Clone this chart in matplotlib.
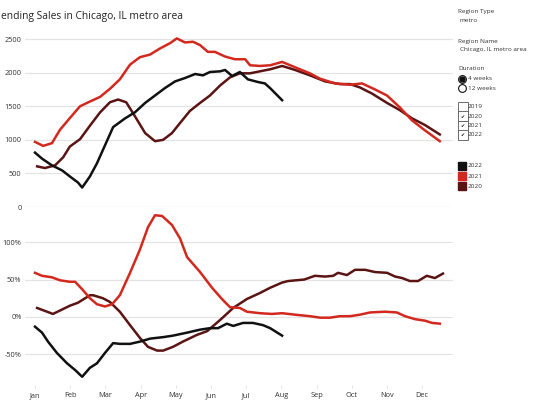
import matplotlib
matplotlib.use("Agg")
import matplotlib.pyplot as plt
from matplotlib.lines import Line2D

plt.rcParams['font.family'] = ['Open Sans', 'DejaVu Sans']

months = ["Jan", "Feb", "Mar", "Apr", "May", "Jun", "Jul", "Aug", "Sep", "Oct", "Nov", "Dec"]

# pending sales, 4 week window (x is month position, 0 = Jan)
x21_top = [0.0, 0.23, 0.48, 0.71, 1.0, 1.28, 1.56, 1.85, 2.13, 2.41, 2.70, 2.98, 3.27, 3.55, 3.84,
           4.03, 4.26, 4.49, 4.69, 4.91, 5.11, 5.40, 5.68, 5.97, 6.11, 6.39, 6.68, 7.02, 7.39, 7.81,
           8.10, 8.52, 8.95, 9.29, 9.66, 10.0, 10.37, 10.71, 11.08, 11.5]
y21_top = [970, 910, 950, 1150, 1330, 1500, 1570, 1640, 1760, 1900, 2120, 2230, 2270, 2360, 2440,
           2510, 2450, 2460, 2410, 2310, 2310, 2240, 2200, 2200, 2110, 2100, 2110, 2160, 2080, 1990,
           1910, 1840, 1820, 1840, 1750, 1660, 1480, 1290, 1140, 980]

x20_top = [0.06, 0.28, 0.57, 0.80, 0.99, 1.28, 1.56, 1.85, 2.13, 2.36, 2.59, 2.84, 3.13, 3.41, 3.64,
           3.89, 4.12, 4.40, 4.69, 4.97, 5.26, 5.54, 5.82, 6.11, 6.39, 6.68, 7.02, 7.39, 7.81, 8.24,
           8.66, 8.95, 9.23, 9.57, 10.0, 10.37, 10.71, 11.08, 11.5]
y20_top = [605, 580, 620, 740, 900, 1010, 1210, 1410, 1560, 1600, 1560, 1350, 1100, 980, 1000,
           1100, 1250, 1430, 1550, 1660, 1810, 1930, 1990, 1990, 2020, 2050, 2100, 2040, 1960, 1870,
           1830, 1830, 1780, 1690, 1550, 1440, 1320, 1220, 1080]

x22_top = [0.0, 0.2, 0.48, 0.77, 0.99, 1.22, 1.34, 1.56, 1.76, 2.22, 2.56, 2.84, 3.13, 3.41, 3.69,
           3.98, 4.26, 4.55, 4.77, 4.97, 5.26, 5.40, 5.60, 5.82, 6.05, 6.34, 6.53, 6.68, 6.85, 7.02]
y22_top = [810, 720, 620, 545, 455, 365, 290, 455, 650, 1190, 1320, 1410, 1550, 1660, 1770,
           1870, 1920, 1980, 1960, 2010, 2020, 2040, 1950, 2010, 1900, 1860, 1840, 1770, 1680, 1590]

# year-over-year change, %
x21_bot = [0.0, 0.2, 0.48, 0.71, 0.99, 1.14, 1.34, 1.56, 1.76, 1.99, 2.19, 2.41, 2.70, 2.98, 3.21,
           3.41, 3.61, 3.89, 4.12, 4.32, 4.69, 5.03, 5.31, 5.54, 5.82, 6.02, 6.39, 6.73, 7.02, 7.39,
           7.81, 8.10, 8.38, 8.66, 8.95, 9.23, 9.52, 9.94, 10.28, 10.51, 10.80, 11.08, 11.28, 11.5]
y21_bot = [59, 55, 53, 49, 47, 47, 37, 25, 17, 14, 17, 29, 59, 90, 120,
           136, 135, 123, 105, 80, 60, 39, 24, 13, 12, 7, 5, 4, 5, 3,
           1, -1, -1, 1, 1, 3, 6, 7, 6, 1, -3, -5, -8, -9]

x20_bot = [0.06, 0.51, 0.99, 1.22, 1.56, 1.65, 1.93, 2.13, 2.41, 2.70, 2.98, 3.21, 3.47, 3.64, 3.92,
           4.20, 4.60, 4.89, 5.26, 5.63, 6.02, 6.39, 6.68, 7.02, 7.19, 7.65, 7.95, 8.24, 8.47, 8.61,
           8.86, 9.09, 9.38, 9.66, 10.0, 10.23, 10.43, 10.65, 10.88, 11.13, 11.36, 11.59]
y20_bot = [12, 4, 15, 19, 29, 29, 25, 20, 7, -11, -28, -40, -45, -45, -40,
           -33, -24, -19, -4, 12, 24, 32, 39, 46, 48, 50, 55, 54, 55, 59,
           56, 63, 63, 60, 59, 54, 52, 48, 48, 55, 52, 58]

x22_bot = [0.0, 0.2, 0.37, 0.62, 0.91, 1.14, 1.34, 1.56, 1.76, 1.99, 2.22, 2.41, 2.70, 2.98, 3.27,
           3.64, 3.92, 4.32, 4.69, 4.97, 5.20, 5.45, 5.63, 5.91, 6.19, 6.48, 6.68, 6.85, 7.02]
y22_bot = [-13, -21, -33, -48, -62, -71, -80, -68, -62, -48, -35, -36, -36, -33, -29,
           -27, -25, -21, -17, -15, -15, -9, -12, -8, -8, -11, -15, -20, -25]

c22 = "#111111"
c21 = "#d3281d"
c20 = "#5b1414"
grid_c = "#e4e4e4"

W, H = 540, 407
fig = plt.figure(figsize=(W / 100, H / 100), dpi=100)


def px_axes(left, top, right, bottom):
    return fig.add_axes([left / W, 1 - bottom / H, (right - left) / W, (bottom - top) / H])


xlim = ((25 - 35) / 35.2, (453 - 35) / 35.2)

ax1 = px_axes(25, 28, 453, 207)
ax2 = px_axes(25, 207, 453, 385)

ax1.plot(x20_top, y20_top, color=c20, lw=1.8, zorder=3)
ax1.plot(x21_top, y21_top, color=c21, lw=1.8, zorder=4)
ax1.plot(x22_top, y22_top, color=c22, lw=1.8, zorder=5)
ax1.set_ylim(0, 2665)
ax1.set_yticks([0, 500, 1000, 1500, 2000, 2500])
ax1.set_yticklabels(["0", "500", "1000", "1500", "2000", "2500"])

ax2.plot(x20_bot, y20_bot, color=c20, lw=1.8, zorder=3)
ax2.plot(x21_bot, y21_bot, color=c21, lw=1.8, zorder=4)
ax2.plot(x22_bot, y22_bot, color=c22, lw=1.8, zorder=5)
ax2.set_ylim(-91, 147)
ax2.set_yticks([-50, 0, 50, 100])
ax2.set_yticklabels(["-50%", "0%", "50%", "100%"])

for ax in (ax1, ax2):
    ax.set_xlim(*xlim)
    for s in ax.spines.values():
        s.set_visible(False)
    ax.grid(axis="y", color=grid_c, lw=0.9)
    ax.set_axisbelow(True)
    ax.tick_params(axis="y", length=0, pad=2.5, labelsize=5.3, labelcolor="#333333")

ax1.set_xticks([])
ax2.set_xticks(range(12))
ax2.set_xticklabels(months)
ax2.tick_params(axis="x", length=2, width=0.6, color="#dddddd", pad=3, labelsize=5.3,
                labelcolor="#333333")

# the reference image is cropped on the left, so the title starts mid-word
fig.text(1 / W, 1 - 17 / H, "ending Sales in Chicago, IL metro area", fontsize=7.4,
         color="#222222", va="center", ha="left")

# filter / legend panel
small = 4.6
lab_x = 458 / W


def fy(y):
    return 1 - y / H


fig.text(lab_x, fy(12), "Region Type", fontsize=small, va="center", color="#333333")
fig.text(lab_x + 2 / W, fy(21), "metro", fontsize=small, va="center", color="#333333")
fig.text(lab_x, fy(41), "Region Name", fontsize=small, va="center", color="#333333")
fig.text(lab_x + 2 / W, fy(50), "Chicago, IL metro area", fontsize=small, va="center", color="#333333")
fig.text(lab_x, fy(69), "Duration", fontsize=small, va="center", color="#333333")

durations = ["4 weeks", "12 weeks"]
for i, d in enumerate(durations):
    yy = 79 + 9 * i
    fig.add_artist(Line2D([462 / W], [fy(yy)], marker="o", markersize=5.6, mfc="white",
                          mec="#111111", mew=0.8, transform=fig.transFigure))
    if i == 0:
        fig.add_artist(Line2D([462 / W], [fy(yy)], marker="o", markersize=3.6, mfc="#111111",
                              mec="#111111", transform=fig.transFigure))
    fig.text(467.5 / W, fy(yy), d, fontsize=small, va="center", color="#333333")

years = ["2019", "2020", "2021", "2022"]
checked = [False, True, True, True]
for i, yr in enumerate(years):
    yy = 107 + 9.3 * i
    fig.add_artist(Line2D([462.5 / W], [fy(yy)], marker="s", markersize=6.5, mfc="white",
                          mec="#555555", mew=0.6, transform=fig.transFigure))
    if checked[i]:
        fig.text(462.5 / W, fy(yy), "\u2714", fontsize=3.5, ha="center", va="center",
                 family="DejaVu Sans", color="#111111")
    fig.text(468 / W, fy(yy), yr, fontsize=small, va="center", color="#333333")

legend_years = ["2022", "2021", "2020"]
legend_cols = [c22, c21, c20]
for i, (yr, col) in enumerate(zip(legend_years, legend_cols)):
    yy = 166 + 10 * i
    fig.add_artist(Line2D([462 / W], [fy(yy)], marker="s", markersize=6, mfc=col, mec=col,
                          transform=fig.transFigure))
    fig.text(468 / W, fy(yy), yr, fontsize=small, va="center", color="#333333")

fig.savefig("out.png", dpi=100)
